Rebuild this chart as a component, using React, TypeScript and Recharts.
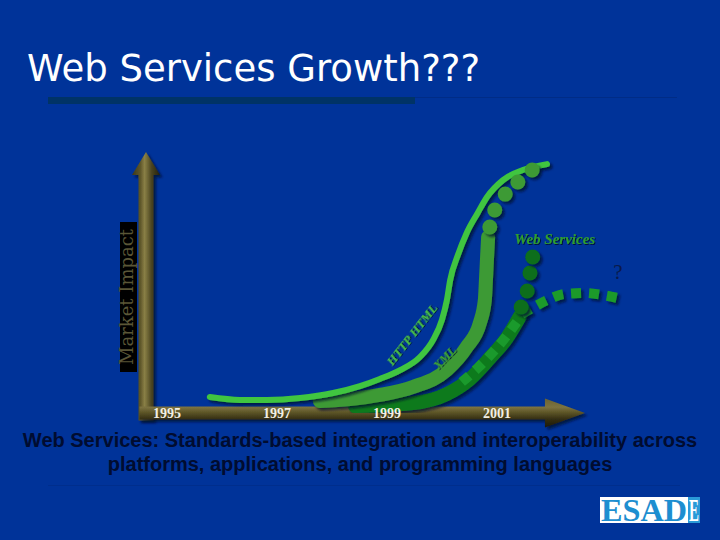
import React from "react";
import {
  ComposedChart,
  Line,
  Scatter,
  XAxis,
  YAxis,
  ReferenceLine,
  ReferenceDot,
} from "recharts";

// year ticks printed on the horizontal arrow
const yearTicks = [1995, 1997, 1999, 2001];

// HTTP / HTML curve (bright thin line)
const httpHtml = [
  { year: 1995.78, impact: 6.7 },
  { year: 1996.33, impact: 5.5 },
  { year: 1996.82, impact: 5.5 },
  { year: 1997.42, impact: 6.3 },
  { year: 1998.02, impact: 8.4 },
  { year: 1998.51, impact: 11.3 },
  { year: 1998.87, impact: 14.3 },
  { year: 1999.24, impact: 18.0 },
  { year: 1999.6, impact: 23.5 },
  { year: 1999.84, impact: 30.7 },
  { year: 2000.0, impact: 39.1 },
  { year: 2000.09, impact: 47.4 },
  { year: 2000.15, impact: 55.8 },
  { year: 2000.29, impact: 66.3 },
  { year: 2000.45, impact: 75.6 },
  { year: 2000.65, impact: 84.0 },
  { year: 2000.82, impact: 90.7 },
  { year: 2001.11, impact: 97.8 },
  { year: 2001.47, impact: 102.0 },
  { year: 2001.91, impact: 104.5 },
];

// XML curve (thick band) and its dotted continuation
const xmlBand = [
  { year: 1997.78, impact: 5.0 },
  { year: 1998.33, impact: 5.9 },
  { year: 1998.87, impact: 7.6 },
  { year: 1999.47, impact: 10.9 },
  { year: 2000.09, impact: 18.1 },
  { year: 2000.45, impact: 27.7 },
  { year: 2000.69, impact: 37.8 },
  { year: 2000.78, impact: 47.4 },
  { year: 2000.8, impact: 55.8 },
  { year: 2000.82, impact: 65.1 },
  { year: 2000.84, impact: 73.9 },
];
const xmlDots = [
  { year: 2000.87, impact: 78.1 },
  { year: 2000.96, impact: 85.2 },
  { year: 2001.15, impact: 91.9 },
  { year: 2001.38, impact: 97.0 },
  { year: 2001.64, impact: 102.0 },
];

// Web Services: band, squares, dotted rise and the "?" branch
const wsBand = [
  { year: 1998.42, impact: 2.9 },
  { year: 1999.47, impact: 4.2 },
  { year: 2000.09, impact: 8.0 },
  { year: 2000.51, impact: 14.3 },
  { year: 2000.87, impact: 23.1 },
  { year: 2001.18, impact: 31.5 },
  { year: 2001.42, impact: 40.7 },
];
const wsSquares = [
  { year: 2000.36, impact: 13.0 },
  { year: 2000.65, impact: 18.9 },
  { year: 2000.93, impact: 25.6 },
  { year: 2001.16, impact: 31.9 },
  { year: 2001.36, impact: 38.2 },
];
const wsDots = [
  { year: 2001.44, impact: 44.5 },
  { year: 2001.55, impact: 51.2 },
  { year: 2001.6, impact: 58.8 },
  { year: 2001.65, impact: 65.5 },
];
const wsBranch = [
  { year: 2001.45, impact: 41.6 },
  { year: 2001.64, impact: 44.1 },
  { year: 2001.91, impact: 47.4 },
  { year: 2002.24, impact: 50.0 },
  { year: 2002.6, impact: 50.4 },
  { year: 2002.93, impact: 49.5 },
  { year: 2003.27, impact: 47.9 },
];

const BG = "#003399";
const SERIF = "'Liberation Serif', 'Times New Roman', serif";

// thick 3D-ish arrow drawn along a reference segment
const makeArrow = (shaft: number, headLen: number, headHalf: number, grad: string) => (props: any) => {
  const { x1, y1, x2, y2 } = props;
  const len = Math.hypot(x2 - x1, y2 - y1) || 1;
  const ux = (x2 - x1) / len;
  const uy = (y2 - y1) / len;
  const nx = -uy;
  const ny = ux;
  const sx = x1 - ux * (shaft / 2);
  const sy = y1 - uy * (shaft / 2);
  const bx = x2 - ux * headLen;
  const by = y2 - uy * headLen;
  const h = shaft / 2;
  const pts = [
    [sx + nx * h, sy + ny * h],
    [bx + nx * h, by + ny * h],
    [bx + nx * headHalf, by + ny * headHalf],
    [x2, y2],
    [bx - nx * headHalf, by - ny * headHalf],
    [bx - nx * h, by - ny * h],
    [sx - nx * h, sy - ny * h],
  ]
    .map((p) => p.join(","))
    .join(" ");
  return <polygon points={pts} fill={`url(#${grad})`} filter="url(#shadow)" />;
};

const YearTick = ({ x, y, payload }: any) => (
  <text
    x={x}
    y={y}
    dy={5}
    textAnchor="middle"
    fill="#f1efe4"
    fontFamily={SERIF}
    fontWeight="bold"
    fontSize={14}
  >
    {payload.value}
  </text>
);

const curveText =
  (text: string, angle: number, size: number, color: string, extra: any = {}) =>
  (props: any) => (
    <text
      x={props.cx}
      y={props.cy}
      dy="0.35em"
      textAnchor="middle"
      transform={`rotate(${angle} ${props.cx} ${props.cy})`}
      fill={color}
      fontFamily={SERIF}
      fontSize={size}
      filter="url(#textShadow)"
      {...extra}
    >
      {text}
    </text>
  );

const dot = (r: number, color: string) => (props: any) =>
  <circle cx={props.cx} cy={props.cy} r={r} fill={color} filter="url(#shadow)" />;

export default function App() {
  return (
    <div style={{ position: "relative", width: 720, height: 540, background: BG, overflow: "hidden" }}>
      <style>{`body{margin:0}`}</style>
      <svg width={720} height={540} style={{ position: "absolute", left: 0, top: 0 }}>
        <text x={27} y={81} fill="#ffffff" fontFamily="'DejaVu Sans', Verdana, sans-serif" fontSize={37}>
          Web Services Growth???
        </text>
        <line x1={48} y1={97.5} x2={677} y2={97.5} stroke="#002c86" strokeWidth={1} />
        <rect x={48} y={97} width={367} height={7} fill="#003366" />

        <rect x={120} y={222} width={17} height={150} fill="#000000" />
        <text
          transform="translate(133,297) rotate(-90)"
          textAnchor="middle"
          fill="#5a5636"
          fontFamily="'DejaVu Serif', serif"
          fontSize={18}
        >
          Market Impact
        </text>

        <g fill="#000c30" fontFamily="'Liberation Sans', Arial, sans-serif" fontWeight="bold" fontSize={20} textAnchor="middle">
          <text x={360} y={447}>Web Services: Standards-based integration and interoperability across</text>
          <text x={360} y={471}>platforms, applications, and programming languages</text>
        </g>
        <line x1={48} y1={485.5} x2={680} y2={485.5} stroke="#002e8c" strokeWidth={1} />

        <rect x={600} y={497} width={88} height={26} fill="#ffffff" />
        <rect x={688} y={497} width={12} height={26} fill="#2a9ad8" />
        <text
          x={601}
          y={521}
          fill="#1d8ed0"
          fontFamily={SERIF}
          fontWeight="bold"
          fontSize={31}
          textLength={86}
          lengthAdjust="spacingAndGlyphs"
        >
          ESAD
        </text>
        <text
          x={689}
          y={521}
          fill="#ffffff"
          fontFamily={SERIF}
          fontWeight="bold"
          fontSize={31}
          textLength={10}
          lengthAdjust="spacingAndGlyphs"
        >
          E
        </text>
      </svg>

      <div style={{ position: "absolute", left: 0, top: 0 }}>
        <ComposedChart width={720} height={540} margin={{ top: 151, right: 85, bottom: 97, left: 146 }}>
          <defs>
            <filter id="shadow" x="-30%" y="-30%" width="160%" height="160%">
              <feDropShadow dx="2.5" dy="2.5" stdDeviation="1.3" floodColor="#000d2e" floodOpacity="0.75" />
            </filter>
            <filter id="textShadow" x="-20%" y="-20%" width="140%" height="140%">
              <feDropShadow dx="1" dy="1" stdDeviation="0.5" floodColor="#001030" floodOpacity="0.9" />
            </filter>
            <linearGradient id="vArrow" x1="0" y1="0" x2="1" y2="0">
              <stop offset="0" stopColor="#3c3716" />
              <stop offset="0.3" stopColor="#5e572a" />
              <stop offset="0.45" stopColor="#8a8046" />
              <stop offset="0.7" stopColor="#4a4420" />
              <stop offset="1" stopColor="#24200c" />
            </linearGradient>
            <linearGradient id="hArrow" x1="0" y1="0" x2="0" y2="1">
              <stop offset="0" stopColor="#6a6232" />
              <stop offset="0.3" stopColor="#7c7340" />
              <stop offset="0.5" stopColor="#5a5226" />
              <stop offset="0.72" stopColor="#332e12" />
              <stop offset="1" stopColor="#1c1908" />
            </linearGradient>
          </defs>

          <XAxis
            type="number"
            dataKey="year"
            domain={[1994.62, 2003.51]}
            ticks={yearTicks}
            tick={<YearTick />}
            tickSize={0}
            tickMargin={0}
            axisLine={false}
            tickLine={false}
            height={30}
            allowDataOverflow
          />
          <YAxis type="number" dataKey="impact" domain={[0, 110]} hide width={0} allowDataOverflow />

          <ReferenceLine
            segment={[
              { x: 1994.62, y: 0 },
              { x: 1994.62, y: 109.6 },
            ]}
            ifOverflow="visible"
            shape={makeArrow(15, 23, 14, "vArrow")}
            zIndex={-10}
          />
          <ReferenceLine
            segment={[
              { x: 1994.62, y: 0 },
              { x: 2002.6, y: 0 },
            ]}
            ifOverflow="visible"
            shape={makeArrow(13, 40, 14.5, "hArrow")}
            zIndex={-10}
          />

          <Line
            data={wsBand}
            dataKey="impact"
            type="monotone"
            stroke="#0b7a1f"
            strokeWidth={14}
            strokeLinecap="round"
            dot={false}
            activeDot={false}
            filter="url(#shadow)"
            isAnimationActive={false}
          />
          <Line
            data={wsSquares}
            dataKey="impact"
            type="monotone"
            stroke="#1a9a2c"
            strokeWidth={10}
            strokeDasharray="10 8"
            dot={false}
            activeDot={false}
            isAnimationActive={false}
          />
          <Line
            data={wsBranch}
            dataKey="impact"
            type="monotone"
            stroke="#1a9a2c"
            strokeWidth={10}
            strokeDasharray="10 8"
            dot={false}
            activeDot={false}
            filter="url(#shadow)"
            isAnimationActive={false}
          />
          <Scatter data={wsDots} dataKey="impact" shape={dot(7.5, "#0a6e1c")} isAnimationActive={false} />

          <Line
            data={xmlBand}
            dataKey="impact"
            type="monotone"
            stroke="#3c9a34"
            strokeWidth={14}
            strokeLinecap="round"
            dot={false}
            activeDot={false}
            filter="url(#shadow)"
            isAnimationActive={false}
          />
          <Scatter data={xmlDots} dataKey="impact" shape={dot(7.5, "#3c9a34")} isAnimationActive={false} />

          <Line
            data={httpHtml}
            dataKey="impact"
            type="monotone"
            stroke="#3fc53f"
            strokeWidth={6}
            strokeLinecap="round"
            dot={false}
            activeDot={false}
            filter="url(#shadow)"
            isAnimationActive={false}
          />

          <ReferenceDot
            x={1999.45}
            y={33}
            ifOverflow="visible"
            shape={curveText("HTTP HTML", -52, 13, "#48c048", { fontStyle: "italic", fontWeight: "bold" })}
          />
          <ReferenceDot
            x={2000.05}
            y={23.1}
            ifOverflow="visible"
            shape={curveText("XML", -46, 12.5, "#3ea636", { fontStyle: "italic", fontWeight: "bold" })}
          />
          <ReferenceDot
            x={2002.05}
            y={73.1}
            ifOverflow="visible"
            shape={curveText("Web Services", 0, 15, "#2f9f2f", { fontStyle: "italic", fontWeight: "bold" })}
          />
          <ReferenceDot
            x={2003.2}
            y={59.2}
            ifOverflow="visible"
            shape={curveText("?", 0, 21, "#0a1a4a", { filter: undefined })}
          />
        </ComposedChart>
      </div>
    </div>
  );
}
